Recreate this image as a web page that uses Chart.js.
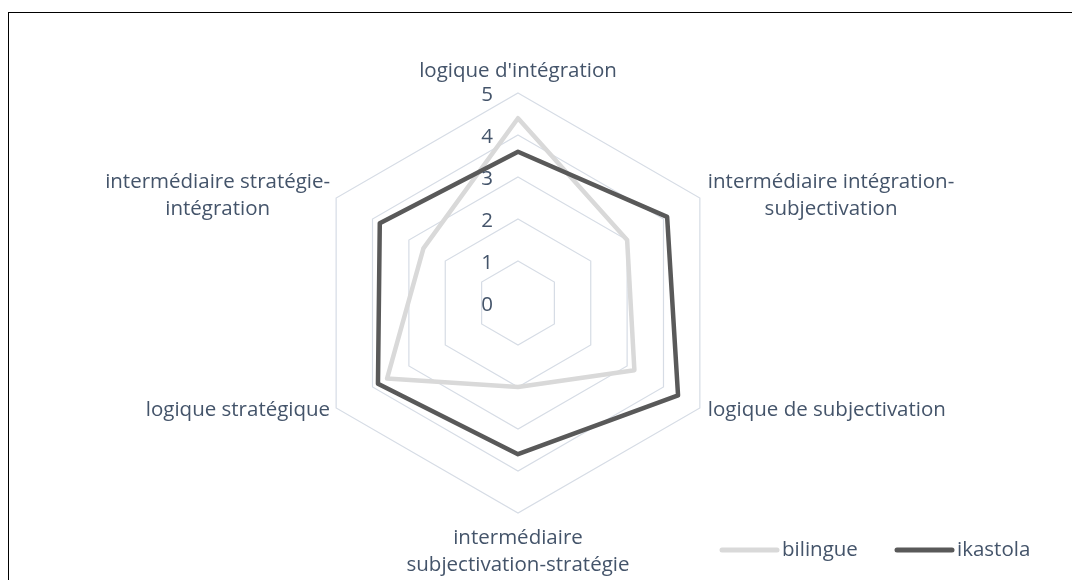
<!DOCTYPE html>
<html lang="fr">
<head>
  <meta charset="UTF-8">
  <title>Logiques d'action</title>
  <script src="https://cdn.jsdelivr.net/npm/chart.js"></script>
  <style>
    html, body { margin: 0; padding: 0; background: #fff; overflow: hidden; }
    .wrap { position: relative; width: 1072px; height: 580px; overflow: hidden; }
    .frame { position: absolute; left: 8px; top: 12px; width: 1200px; height: 800px; border: 1.5px solid #000; }
    canvas { position: absolute; left: 0; top: 0; }
  </style>
</head>
<body>
  <div class="wrap">
    <div class="frame"></div>
    <canvas id="radar" width="1072" height="580"></canvas>
  </div>

  <script>
  // données
  const categories = [
    ["logique d'intégration"],
    ['intermédiaire intégration-', 'subjectivation'],
    ['logique de subjectivation'],
    ['intermédiaire', 'subjectivation-stratégie'],
    ['logique stratégique'],
    ['intermédiaire stratégie-', 'intégration']
  ];
  const bilingue = [4.4, 3.0, 3.2, 2.0, 3.6, 2.6];
  const ikastola = [3.6, 4.1, 4.4, 3.6, 3.85, 3.8];
  const tickValues = [0, 1, 2, 3, 4, 5];
  const seriesNames = ['bilingue', 'ikastola'];
  const seriesColors = ['#d9d9d9', '#595959'];

  const FONT = '20.5px "Open Sans", sans-serif';
  const TEXT = '#44546a';

  // étiquettes des axes, graduations et légende dessinées à la main (façon Excel)
  const labelsPlugin = {
    id: 'excelLabels',
    afterDraw(chart) {
      const ctx = chart.ctx, r = chart.scales.r;
      ctx.save();
      ctx.font = FONT;
      ctx.fillStyle = TEXT;
      ctx.textBaseline = 'middle';

      // graduations 0..5, décalées à gauche de l'axe vertical
      ctx.textAlign = 'center';
      tickValues.forEach(v => {
        const y = r.yCenter - r.getDistanceFromCenterForValue(v);
        ctx.fillText(String(v), r.xCenter - 31, y + 2);
      });

      // noms des axes
      const lh = 27;
      categories.forEach((lines, i) => {
        const p = r.getPointPosition(i, r.drawingArea);
        const w = Math.max(...lines.map(t => ctx.measureText(t).width));
        let cx, top;
        if (i === 0) {
          cx = p.x; top = p.y - 22 - (lines.length - 1) * lh;
        } else if (i === 3) {
          cx = p.x; top = p.y + 25;
        } else if (p.x > r.xCenter) {
          cx = p.x + 8 + w / 2; top = p.y - (lines.length - 1) * lh / 2 + (i === 1 ? -2 : 2);
        } else {
          cx = p.x - 6 - w / 2; top = p.y - (lines.length - 1) * lh / 2 + (i === 5 ? -2 : 2);
        }
        ctx.textAlign = 'center';
        lines.forEach((t, k) => ctx.fillText(t, cx, top + k * lh));
      });

      // légende
      const legendX = [722, 897], legendY = 550;
      seriesNames.forEach((name, k) => {
        ctx.strokeStyle = seriesColors[k];
        ctx.lineWidth = 5;
        ctx.lineCap = 'round';
        ctx.beginPath();
        ctx.moveTo(legendX[k], legendY);
        ctx.lineTo(legendX[k] + 55, legendY);
        ctx.stroke();
        ctx.textAlign = 'left';
        ctx.fillText(name, legendX[k] + 60, legendY);
      });
      ctx.restore();
    }
  };

  new Chart(document.getElementById('radar'), {
    type: 'radar',
    data: {
      labels: categories,
      datasets: [
        { label: seriesNames[0], data: bilingue, borderColor: seriesColors[0], order: 1 },
        { label: seriesNames[1], data: ikastola, borderColor: seriesColors[1], order: 0 }
      ]
    },
    options: {
      responsive: false,
      animation: false,
      layout: { padding: { top: 93, bottom: 67, left: 100, right: 136 } },
      elements: {
        line: { borderWidth: 4.5, fill: false, borderJoinStyle: 'round', tension: 0 },
        point: { radius: 0, hoverRadius: 0 }
      },
      plugins: { legend: { display: false }, tooltip: { enabled: false } },
      scales: {
        r: {
          min: 0, max: 5,
          ticks: { display: false, stepSize: 1 },
          grid: { color: '#d6dce5', lineWidth: 1.2 },
          angleLines: { display: false },
          pointLabels: { display: false }
        }
      }
    },
    plugins: [labelsPlugin]
  });
  </script>
</body>
</html>
